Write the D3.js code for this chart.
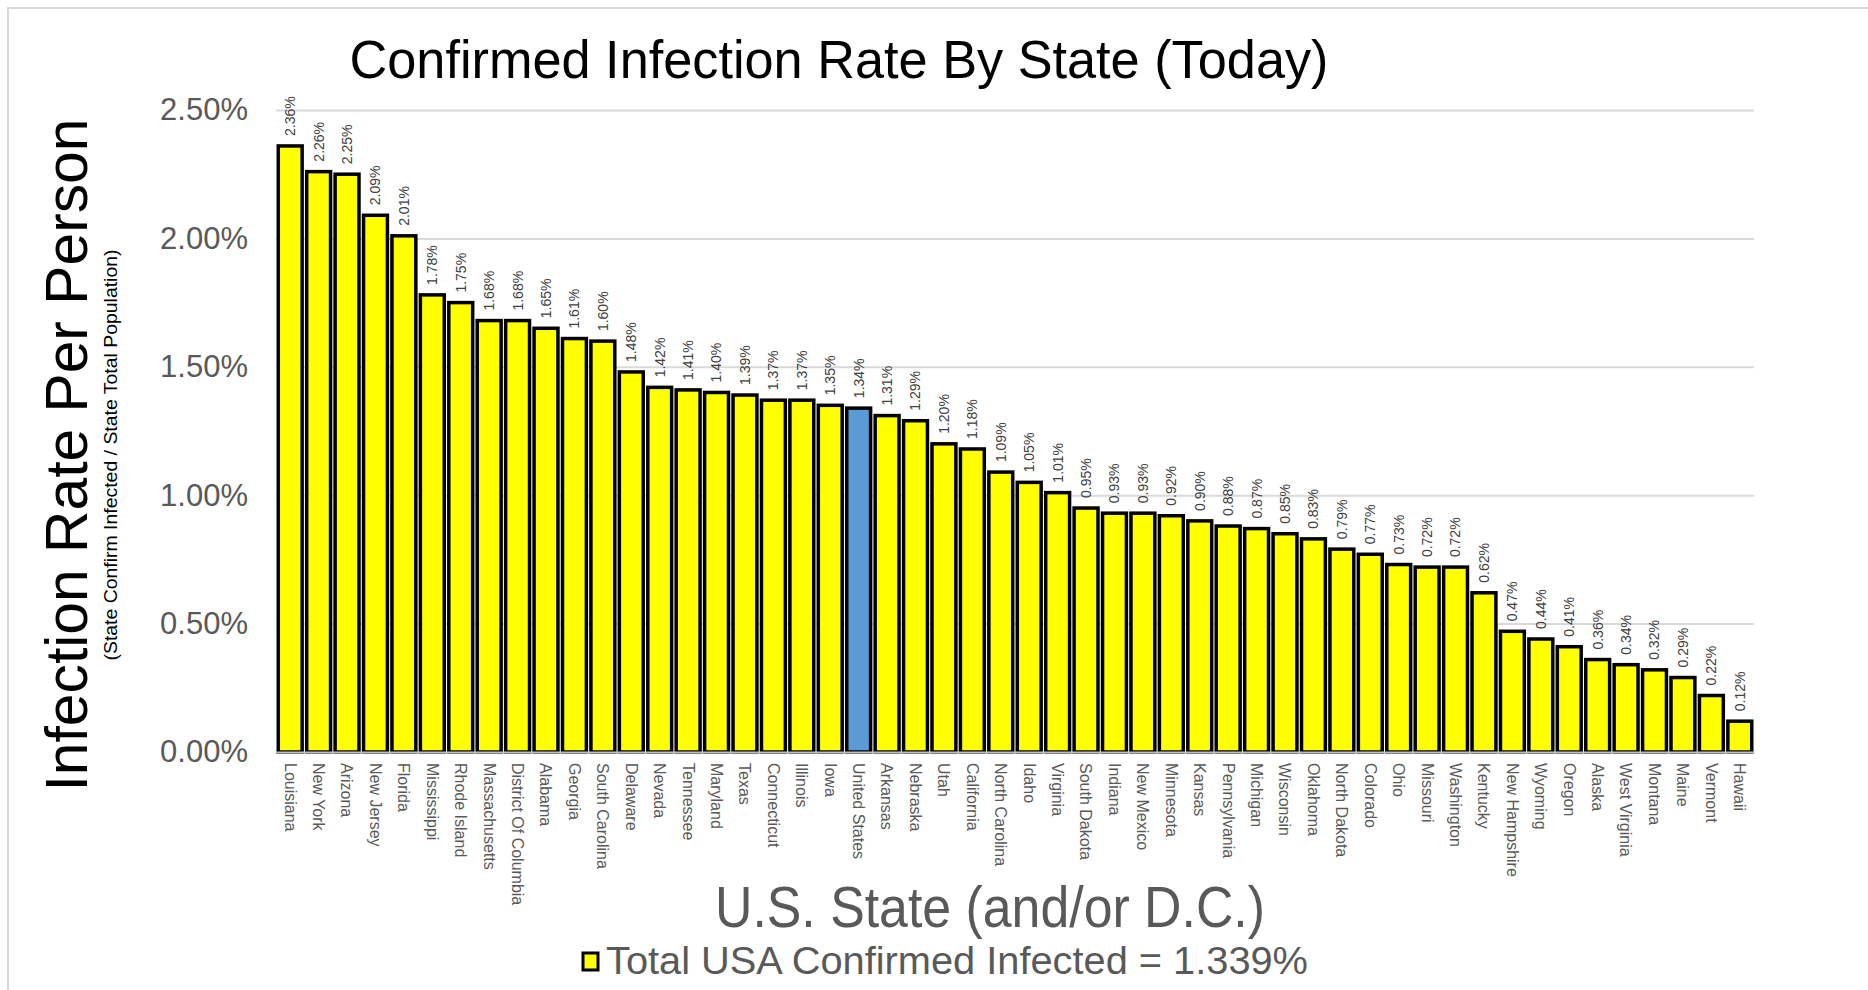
<!DOCTYPE html>
<html>
<head>
<meta charset="utf-8">
<script src="https://cdn.jsdelivr.net/npm/d3@7"></script>
<style>
  html, body { margin: 0; padding: 0; background: #fff; }
  svg { display: block; font-family: "Liberation Sans", Arial, sans-serif; }
</style>
</head>
<body>
<svg id="chart" width="1868" height="990"></svg>
<script>
const states = ["Louisiana","New York","Arizona","New Jersey","Florida","Mississippi","Rhode Island","Massachusetts","District Of Columbia","Alabama","Georgia","South Carolina","Delaware","Nevada","Tennessee","Maryland","Texas","Connecticut","Illinois","Iowa","United States","Arkansas","Nebraska","Utah","California","North Carolina","Idaho","Virginia","South Dakota","Indiana","New Mexico","Minnesota","Kansas","Pennsylvania","Michigan","Wisconsin","Oklahoma","North Dakota","Colorado","Ohio","Missouri","Washington","Kentucky","New Hampshire","Wyoming","Oregon","Alaska","West Virginia","Montana","Maine","Vermont","Hawaii"];
const rates = [2.36,2.26,2.25,2.09,2.01,1.78,1.75,1.68,1.68,1.65,1.61,1.60,1.48,1.42,1.41,1.40,1.39,1.37,1.37,1.35,1.339,1.31,1.29,1.20,1.18,1.09,1.05,1.01,0.95,0.93,0.93,0.92,0.90,0.88,0.87,0.85,0.83,0.79,0.77,0.73,0.72,0.72,0.62,0.47,0.44,0.41,0.36,0.34,0.32,0.29,0.22,0.12];
const highlighted = ["United States"];
const yTicks = [0, 0.5, 1.0, 1.5, 2.0, 2.5];
const titleText = "Confirmed Infection Rate By State (Today)";
const yLabel = "Infection Rate Per Person";
const ySubLabel = "(State Confirm Infected / State Total Population)";
const xLabel = "U.S. State (and/or D.C.)";
const legendText = "Total USA Confirmed Infected = 1.339%";

const svg = d3.select("#chart");
const plotLeft = 276, plotRight = 1754, plotTop = 110, plotBottom = 752;

// chart border
svg.append("rect").attr("x", 8).attr("y", 8).attr("width", 1900).attr("height", 1000)
  .attr("fill", "none").attr("stroke", "#d9d9d9").attr("stroke-width", 2);

const x = d3.scaleBand().domain(states).range([plotLeft, plotRight]).paddingInner(0.16).paddingOuter(0.08);
const y = d3.scaleLinear().domain([0, 2.5]).range([plotBottom, plotTop]);

// y axis with gridlines
const yAxis = svg.append("g").attr("transform", `translate(${plotLeft},0)`)
  .call(d3.axisLeft(y).tickValues(yTicks).tickSize(-(plotRight - plotLeft)).tickPadding(28)
    .tickFormat(d => d3.format(".2f")(d) + "%"));
yAxis.select(".domain").remove();
yAxis.selectAll(".tick line").attr("stroke", "#d9d9d9").attr("stroke-width", 2)
  .attr("display", d => d === 0 ? "none" : null);
yAxis.selectAll(".tick text").attr("fill", "#595959").attr("font-size", 31)
  .attr("font-family", "Liberation Sans, Arial, sans-serif");

// bars
svg.append("g").selectAll("rect").data(states).join("rect")
  .attr("x", d => x(d))
  .attr("y", (d, i) => y(rates[i]))
  .attr("width", x.bandwidth())
  .attr("height", (d, i) => y(0) - y(rates[i]))
  .attr("fill", d => highlighted.includes(d) ? "#5b9bd5" : "#ffff00")
  .attr("stroke", "#000").attr("stroke-width", 3.5);

// x axis
const xAxis = svg.append("g").attr("transform", `translate(0,${plotBottom})`)
  .call(d3.axisBottom(x).tickSize(0).tickPadding(0));
xAxis.select(".domain").attr("stroke", "#bfbfbf").attr("stroke-width", 2);
xAxis.selectAll(".tick text")
  .attr("fill", "#595959").attr("font-size", 16)
  .attr("font-family", "Liberation Sans, Arial, sans-serif")
  .attr("text-anchor", "start")
  .attr("transform", "rotate(90)")
  .attr("x", 11).attr("y", 0).attr("dy", "0.35em");

// value labels
svg.append("g").selectAll("text").data(states).join("text")
  .attr("transform", (d, i) => `translate(${x(d) + x.bandwidth() / 2},${y(rates[i]) - 10}) rotate(-90)`)
  .attr("dy", "0.35em")
  .attr("text-anchor", "start")
  .attr("font-size", 14).attr("fill", "#404040")
  .text((d, i) => d3.format(".2f")(rates[i]) + "%");

// title
svg.append("text").attr("x", 839).attr("y", 78).attr("text-anchor", "middle")
  .attr("font-size", 54).attr("fill", "#000")
  .attr("textLength", 979).attr("lengthAdjust", "spacingAndGlyphs")
  .text(titleText);

// y label
svg.append("text").attr("transform", "translate(87,455) rotate(-90)")
  .attr("text-anchor", "middle").attr("font-size", 60).attr("fill", "#000")
  .attr("textLength", 673).attr("lengthAdjust", "spacingAndGlyphs")
  .text(yLabel);
svg.append("text").attr("transform", "translate(117,455) rotate(-90)")
  .attr("text-anchor", "middle").attr("font-size", 18).attr("fill", "#000")
  .attr("textLength", 411).attr("lengthAdjust", "spacingAndGlyphs")
  .text(ySubLabel);

// x label
svg.append("text").attr("x", 990).attr("y", 927).attr("text-anchor", "middle")
  .attr("font-size", 58).attr("fill", "#595959")
  .attr("textLength", 550).attr("lengthAdjust", "spacingAndGlyphs")
  .text(xLabel);

// legend
svg.append("rect").attr("x", 583).attr("y", 953).attr("width", 15).attr("height", 17)
  .attr("fill", "#ffff00").attr("stroke", "#000").attr("stroke-width", 3);
svg.append("text").attr("x", 606).attr("y", 974).attr("font-size", 38).attr("fill", "#595959")
  .attr("textLength", 702).attr("lengthAdjust", "spacingAndGlyphs")
  .text(legendText);
</script>
</body>
</html>
